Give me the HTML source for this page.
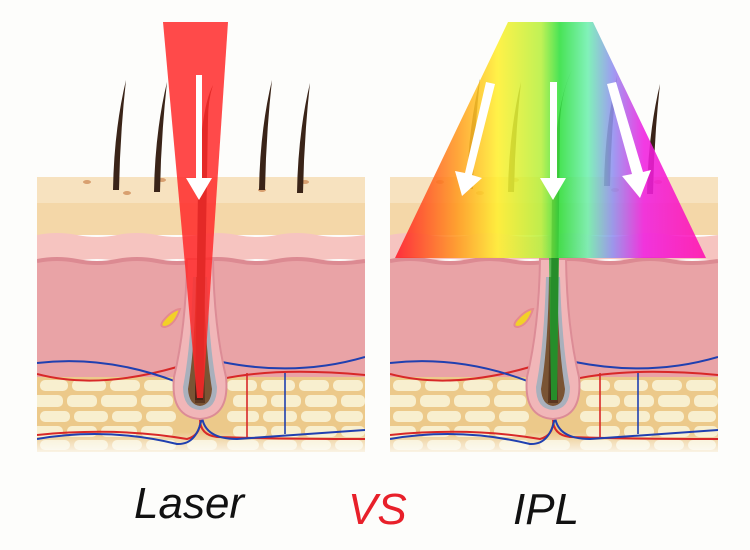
<!DOCTYPE html>
<html><head><style>
html,body{margin:0;padding:0;background:#fdfdfb;width:750px;height:550px;overflow:hidden}
</style></head><body>
<svg width="750" height="550" viewBox="0 0 750 550" xmlns="http://www.w3.org/2000/svg">
<defs>
<clipPath id="bc"><rect x="0" y="0" width="328" height="280"/></clipPath>
<linearGradient id="fade" x1="0" y1="0" x2="0" y2="1">
<stop offset="0" stop-color="#fdfdfb" stop-opacity="0"/><stop offset="1" stop-color="#fdfdfb" stop-opacity="1"/></linearGradient>
<linearGradient id="rain" x1="395" y1="0" x2="706" y2="0" gradientUnits="userSpaceOnUse">
<stop offset="0" stop-color="#ff1a2a"/><stop offset="0.2" stop-color="#ff9a20"/><stop offset="0.33" stop-color="#fff030"/><stop offset="0.47" stop-color="#b8f040"/><stop offset="0.53" stop-color="#30e040"/><stop offset="0.62" stop-color="#70f0b0"/><stop offset="0.7" stop-color="#9090f0"/><stop offset="0.8" stop-color="#f020e0"/><stop offset="1" stop-color="#ff10b0"/></linearGradient>
<g id="block">
<g clip-path="url(#bc)">
<rect x="0" y="0" width="328" height="58" fill="#f4d7a8"/>
<rect x="0" y="0" width="328" height="26" fill="#f7e2bf"/>
<path d="M0 58 Q20 54 40 58 T80 58 T120 58 T160 58 T200 58 T240 58 T280 58 T328 58 V84 Q300 80 280 84 T240 84 T200 84 T160 84 T120 84 T80 84 T40 84 T0 84Z" fill="#f6c4c0"/>
<rect x="0" y="84" width="328" height="118" fill="#e9a3a6"/>
<path d="M0 84 Q20 80 40 84 T80 84 T120 84 T160 84 T200 84 T240 84 T280 84 T328 84" stroke="#dc8a92" stroke-width="4" fill="none"/>
<rect x="0" y="200" width="328" height="75" fill="#ecc98a"/>
<g fill="#f8efcf">
<rect x="3" y="203" width="28" height="11" rx="5"/><rect x="35" y="203" width="34" height="11" rx="5"/><rect x="73" y="203" width="30" height="11" rx="5"/><rect x="107" y="203" width="36" height="11" rx="5"/><rect x="190" y="203" width="30" height="11" rx="5"/><rect x="224" y="203" width="34" height="11" rx="5"/><rect x="262" y="203" width="30" height="11" rx="5"/><rect x="296" y="203" width="30" height="11" rx="5"/>
<rect x="-8" y="218" width="34" height="12" rx="5"/><rect x="30" y="218" width="30" height="12" rx="5"/><rect x="64" y="218" width="36" height="12" rx="5"/><rect x="104" y="218" width="32" height="12" rx="5"/><rect x="196" y="218" width="34" height="12" rx="5"/><rect x="234" y="218" width="30" height="12" rx="5"/><rect x="268" y="218" width="32" height="12" rx="5"/><rect x="304" y="218" width="24" height="12" rx="5"/>
<rect x="3" y="234" width="30" height="11" rx="5"/><rect x="37" y="234" width="34" height="11" rx="5"/><rect x="75" y="234" width="30" height="11" rx="5"/><rect x="109" y="234" width="30" height="11" rx="5"/><rect x="190" y="234" width="32" height="11" rx="5"/><rect x="226" y="234" width="34" height="11" rx="5"/><rect x="264" y="234" width="30" height="11" rx="5"/><rect x="298" y="234" width="28" height="11" rx="5"/>
<rect x="-8" y="249" width="34" height="11" rx="5"/><rect x="30" y="249" width="30" height="11" rx="5"/><rect x="64" y="249" width="36" height="11" rx="5"/><rect x="104" y="249" width="32" height="11" rx="5"/><rect x="196" y="249" width="34" height="11" rx="5"/><rect x="234" y="249" width="30" height="11" rx="5"/><rect x="268" y="249" width="32" height="11" rx="5"/><rect x="304" y="249" width="24" height="11" rx="5"/>
<rect x="3" y="263" width="30" height="10" rx="5"/><rect x="37" y="263" width="34" height="10" rx="5"/><rect x="75" y="263" width="30" height="10" rx="5"/><rect x="109" y="263" width="30" height="10" rx="5"/><rect x="150" y="263" width="30" height="10" rx="5"/><rect x="190" y="263" width="32" height="10" rx="5"/><rect x="226" y="263" width="34" height="10" rx="5"/><rect x="264" y="263" width="30" height="10" rx="5"/><rect x="298" y="263" width="28" height="10" rx="5"/>
</g>
<rect x="0" y="255" width="328" height="25" fill="url(#fade)"/>
<g fill="none" stroke-width="2">
<path d="M0 197 Q60 213 140 190" stroke="#d82828"/>
<path d="M0 186 Q70 178 140 205" stroke="#2040b0"/>
<path d="M185 202 Q240 190 328 198" stroke="#d82828"/>
<path d="M185 185 Q260 200 328 180" stroke="#2040b0"/>
<path d="M210 196 V262" stroke="#d82828" stroke-width="1.6"/>
<path d="M248 196 V257" stroke="#2040b0" stroke-width="1.6"/>
<path d="M0 258 Q80 250 150 262 Q165 258 163 240 M163 240 Q162 258 180 260 Q240 262 328 262" stroke="#d82828"/>
<path d="M0 262 Q70 250 140 267 Q160 268 165 240 M165 240 Q168 262 200 262 Q260 258 328 253" stroke="#2040b0"/>
</g>
</g>
<path d="M150 82 Q149 150 137 200 Q133 240 163 242 Q193 240 189 200 Q177 150 176 82Z" fill="#f1b6b8" stroke="#dc8c96" stroke-width="2"/>
<path d="M156 100 Q154 170 146 210 Q146 232 163 233 Q180 232 180 210 Q172 170 170 100Z" fill="#a9b0bc"/>
<path d="M159 100 Q158 170 151 212 Q152 228 163 229 Q174 228 175 212 Q168 170 167 100Z" fill="#7a5434"/>
<path d="M161 100 L158 226 L168 226 L165 100Z" fill="#5a3620"/>
<path d="M126 144 Q135 133 143 132 Q138 148 128 150 Q122 150 126 144Z" fill="#f2d028" stroke="#e48a90" stroke-width="2"/>
<g fill="#d8a070"><ellipse cx="50" cy="5" rx="4" ry="2"/><ellipse cx="90" cy="16" rx="4" ry="2"/><ellipse cx="225" cy="13" rx="4" ry="2"/><ellipse cx="268" cy="5" rx="4" ry="2"/><ellipse cx="125" cy="3" rx="4" ry="2"/></g>
</g>
<path id="hair" d="M-3 0 Q-2 -60 10 -110 Q4 -55 3 0Z" fill="#3a2418"/>
</defs>

<use href="#block" x="37" y="177"/>
<use href="#block" x="390" y="177"/>

<!-- left hairs -->
<use href="#hair" x="116" y="190"/>
<use href="#hair" x="157" y="192"/>
<use href="#hair" x="262" y="190"/>
<use href="#hair" x="300" y="193"/>
<path d="M195 400 L203 400 L208 120 Q208 100 213 85 Q200 110 198 190Z" fill="#4a2416"/>
<!-- laser -->
<path d="M163 22 L228 22 L203 398 L197 398 Z" fill="#ff2a2a" opacity="0.85"/>
<path d="M196 75 L196 178 L186 178 L199 200 L212 178 L202 178 L202 75Z" fill="#fff"/>

<!-- right hairs -->
<use href="#hair" x="470" y="189"/>
<use href="#hair" x="511" y="192"/>
<use href="#hair" x="607" y="186"/>
<use href="#hair" x="650" y="194"/>
<path d="M550 400 L557 400 L560 120 Q562 90 572 70 Q556 100 552 190Z" fill="#3a2418"/>
<!-- IPL -->
<path d="M508 22 L593 22 L706 258 L395 258Z" fill="url(#rain)" opacity="0.88"/>
<path d="M549 258 L559 258 L557 400 L551 400Z" fill="#20b030" opacity="0.75"/>
<g fill="#fff">
<path d="M486 82 L495 84 L472 175 L482 178 L462 196 L455 171 L465 173Z"/>
<path d="M550 82 L557 82 L557 178 L566 178 L553 200 L540 178 L550 178Z"/>
<path d="M607 84 L616 82 L643 172 L651 170 L640 198 L622 176 L632 174Z"/>
</g>

<g font-family="'Liberation Sans',sans-serif" font-style="italic" font-size="44">
<text x="134" y="518" fill="#111">Laser</text>
<text x="348" y="524" fill="#e8202a">VS</text>
<text x="513" y="524" fill="#111">IPL</text>
</g>
</svg>
</body></html>
